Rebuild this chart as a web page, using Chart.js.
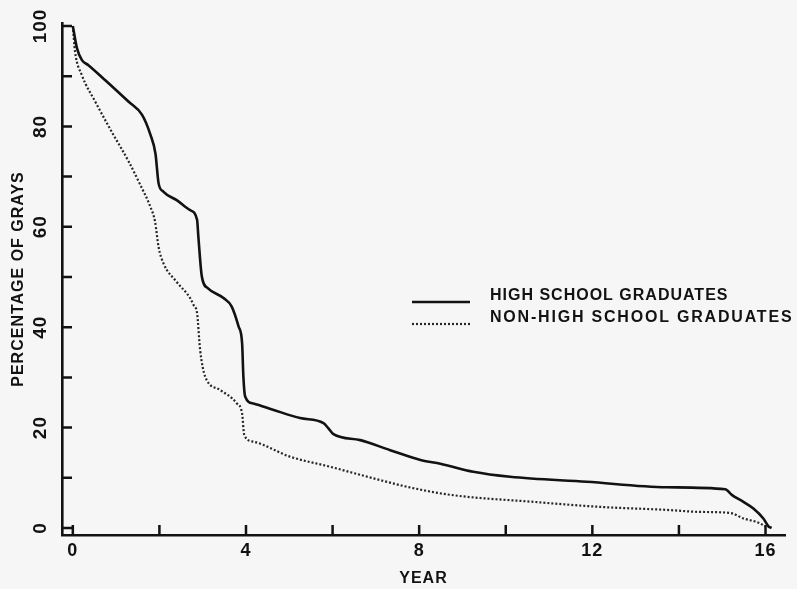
<!DOCTYPE html>
<html>
<head>
<meta charset="utf-8">
<script src="https://cdn.jsdelivr.net/npm/chart.js@4.4.1/dist/chart.umd.min.js"></script>
<style>
  html, body { margin: 0; padding: 0; background: #f6f6f6; }
  #wrap { width: 797px; height: 589px; }
</style>
</head>
<body>
<div id="wrap"><canvas id="graysChart"></canvas></div>
<script>
// ---- values ----
const hsYears = [0, 0.095, 0.21, 0.36, 0.75, 1.29, 1.60, 1.79, 1.91, 1.98, 2.09, 2.40, 2.71, 2.87, 2.90, 2.98, 3.13, 3.48, 3.67, 3.83, 3.91, 3.94, 3.98, 4.17, 4.64, 5.25, 5.79, 5.90, 6.02, 6.64, 7.33, 8.05, 8.49, 9.25, 10.10, 11.87, 13.72, 15.07, 15.22, 15.49, 15.72, 15.95, 16.07, 16.14];
const hsPct   = [100, 95.6, 93.2, 92.2, 89.2, 84.9, 82.3, 78.4, 74.5, 68.7, 67.0, 65.3, 63.3, 61.4, 58.0, 50.1, 47.7, 45.8, 44.1, 40.1, 36.8, 30.1, 26.2, 24.8, 23.5, 21.9, 20.9, 19.9, 18.7, 17.5, 15.5, 13.5, 12.8, 11.2, 10.2, 9.2, 8.1, 7.7, 6.6, 5.2, 3.9, 1.9, 0.3, 0];

const nonYears = [0, 0.05, 0.21, 0.52, 0.90, 1.29, 1.55, 1.79, 1.90, 1.98, 2.09, 2.40, 2.71, 2.79, 2.87, 2.94, 3.06, 3.40, 3.79, 3.91, 3.96, 4.17, 5.02, 5.94, 6.94, 7.72, 8.72, 10.64, 12.18, 13.72, 14.49, 15.18, 15.49, 15.84, 16.00];
const nonPct   = [100, 95.0, 90.2, 84.9, 78.9, 73.0, 68.5, 64.0, 61.0, 56.0, 52.8, 49.0, 45.8, 44.4, 42.8, 35.5, 30.1, 27.5, 24.8, 22.8, 18.5, 17.2, 14.2, 12.2, 9.9, 8.2, 6.6, 5.2, 4.2, 3.6, 3.2, 3.0, 1.9, 1.05, 0.3];

const seriesNames = ["HIGH SCHOOL GRADUATES", "NON-HIGH SCHOOL GRADUATES"];
const xTickLabels = [0, 4, 8, 12, 16];
const yTickLabels = [0, 20, 40, 60, 80, 100];

const INK = "#121212";
const FONT = '"Liberation Sans", Arial, sans-serif';

const toPoints = (xs, ys) => xs.map((x, i) => ({ x: x, y: ys[i] }));

// ---- background, inward ticks and the legend box ----
const paperPlugin = {
    id: "paper",
    beforeDraw(chart) {
        const ctx = chart.ctx;
        ctx.save();
        ctx.fillStyle = "#f6f6f6";
        ctx.fillRect(0, 0, chart.width, chart.height);
        ctx.restore();
        ctx.letterSpacing = "1px";
    },
    afterDraw(chart) {
        const ctx = chart.ctx;
        const area = chart.chartArea;
        const xs = chart.scales.x;
        const ys = chart.scales.y;
        ctx.save();
        ctx.strokeStyle = INK;
        ctx.lineWidth = 2.5;
        ctx.beginPath();
        ys.ticks.forEach(t => {
            const py = ys.getPixelForValue(t.value);
            ctx.moveTo(area.left, py);
            ctx.lineTo(area.left + 10, py);
        });
        xs.ticks.forEach(t => {
            const px = xs.getPixelForValue(t.value);
            ctx.moveTo(px, area.bottom);
            ctx.lineTo(px, area.bottom - 10);
        });
        ctx.stroke();

        // legend
        const lx = 412, lw = 58, tx = 490;
        const lineRows = [302, 324];
        const textRows = [295.5, 317.5];
        const spacing = ["1px", "1.8px"];
        chart.data.datasets.forEach((ds, i) => {
            ctx.beginPath();
            ctx.strokeStyle = ds.borderColor;
            ctx.lineWidth = ds.borderWidth;
            ctx.setLineDash(ds.borderDash || []);
            ctx.moveTo(lx, lineRows[i]);
            ctx.lineTo(lx + lw, lineRows[i]);
            ctx.stroke();
        });
        ctx.setLineDash([]);
        ctx.fillStyle = INK;
        ctx.font = "bold 16px " + FONT;
        ctx.textBaseline = "middle";
        ctx.textAlign = "left";
        seriesNames.forEach((name, i) => {
            ctx.letterSpacing = spacing[i];
            ctx.fillText(name, tx, textRows[i]);
        });
        ctx.restore();
    }
};

new Chart(document.getElementById("graysChart"), {
    type: "line",
    data: {
        datasets: [{
            label: seriesNames[0],
            data: toPoints(hsYears, hsPct),
            borderColor: INK,
            borderWidth: 2.6,
            pointRadius: 0,
            cubicInterpolationMode: "monotone"
        }, {
            label: seriesNames[1],
            data: toPoints(nonYears, nonPct),
            borderColor: "#262626",
            borderWidth: 2.2,
            borderDash: [2, 2],
            pointRadius: 0,
            cubicInterpolationMode: "monotone"
        }]
    },
    options: {
        responsive: true,
        maintainAspectRatio: false,
        animation: false,
        layout: { padding: { top: 23, right: 12, left: 0, bottom: 0 } },
        plugins: {
            legend: { display: false },
            tooltip: { enabled: false }
        },
        scales: {
            x: {
                type: "linear",
                min: -0.25,
                max: 16.45,
                border: { display: true, color: INK, width: 2.6 },
                grid: { display: false, drawTicks: false },
                ticks: {
                    stepSize: 2,
                    includeBounds: false,
                    maxRotation: 0,
                    padding: 5,
                    color: INK,
                    font: { family: FONT, size: 18, weight: "bold" },
                    callback: v => xTickLabels.includes(v) ? String(v) : ""
                },
                title: {
                    display: true,
                    text: "YEAR",
                    color: INK,
                    font: { family: FONT, size: 16, weight: "bold" },
                    padding: { top: 0, bottom: 1 }
                },
                afterFit: s => { s.height = 54; }
            },
            y: {
                min: -1.4,
                max: 100.6,
                border: { display: true, color: INK, width: 2.6 },
                grid: { display: false, drawTicks: false },
                ticks: {
                    stepSize: 10,
                    includeBounds: false,
                    minRotation: 90,
                    maxRotation: 90,
                    crossAlign: "center",
                    padding: 5,
                    color: INK,
                    font: { family: FONT, size: 19, weight: "bold" },
                    callback: v => yTickLabels.includes(v) ? String(v) : ""
                },
                title: {
                    display: true,
                    text: "PERCENTAGE OF GRAYS",
                    color: INK,
                    font: { family: FONT, size: 16, weight: "bold" },
                    padding: { top: 9, bottom: 0 }
                },
                afterFit: s => { s.width = 62; }
            }
        }
    },
    plugins: [paperPlugin]
});
</script>
</body>
</html>
